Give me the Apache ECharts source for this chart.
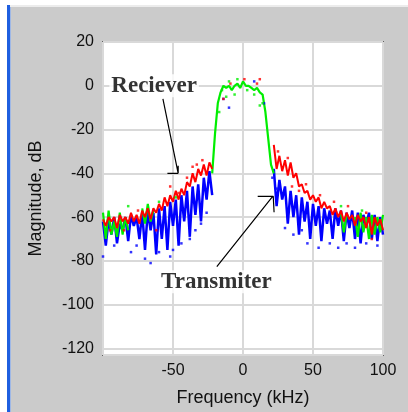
<!DOCTYPE html>
<html><head><meta charset="utf-8">
<script src="https://cdn.jsdelivr.net/npm/echarts@6/dist/echarts.min.js"></script>
<style>html,body{margin:0;padding:0;background:#fff}#c{width:408px;height:412px}</style>
</head><body><div id="c"></div>
<script>
const freq = [-100,-98,-96,-94,-92,-90,-88,-86,-84,-82,-80,-78,-76,-74,-72,-70,-68,-66,-64,-62,-60,-58,-56,-54,-52,-50,-48,-46,-44,-42,-40,-38,-36,-34,-32,-30,-28,-26,-24,-22,
  -20,-18,-16,-14,-12,-10,-8,-6,-4,-2,0,2,4,6,8,10,12,14,16,18,20,
  22,24,26,28,30,32,34,36,38,40,42,44,46,48,50,52,54,56,58,60,62,64,66,68,70,72,74,76,78,80,82,84,86,88,90,92,94,96,98,100];

const transmitter = [-62,-73,-61,-68,-60,-72,-63,-66,-60,-71,-59,-64,-60,-70,-58,-75,-57,-66,-58,-77,-56,-70,-55,-75,-53,-64,-52,-73,-50,-62,-48,-69,-46,-59,-45,-62,-42,-52,-39,-50,
  '-','-','-','-','-','-','-','-','-','-','-','-','-','-','-','-','-','-','-','-','-',
  -38,-55,-43,-52,-46,-63,-48,-60,-50,-68,-51,-62,-53,-70,-54,-64,-55,-71,-56,-63,-57,-70,-56,-64,-57,-71,-58,-65,-57,-70,-58,-72,-59,-64,-58,-70,-59,-71,-60,-68];

const receiver = [-61,-64,-60,-62,-60,-65,-59,-62,-60,-63,-58,-62,-59,-63,-57,-60,-56,-61,-56,-58,-54,-57,-51,-55,-50,-53,-48,-52,-47,-50,-44,-46,-40,-44,-38,-41,-36,-41,-35,-38,
  '-','-','-','-','-','-','-','-','-','-','-','-','-','-','-','-','-','-','-','-','-',
  -27,-38,-32,-39,-34,-41,-35,-42,-40,-46,-45,-49,-48,-52,-50,-53,-51,-56,-53,-56,-55,-59,-56,-60,-57,-62,-58,-61,-59,-64,-59,-62,-60,-65,-60,-68,-60,-64,-61,-66];

const combined = [-58,-70,-57,-68,-62,-69,-58,-68,-60,-66,'-','-','-','-',-56,-63,-54,-62,-57,'-','-','-','-','-','-','-','-','-','-','-','-','-','-','-','-','-','-','-','-',-40,
  -22,-8,-3,0,-1,0,-2,0,1,-1,2,0,0,-1,-2,-1,-3,-4,-12,-24,-36,
  -40,'-','-','-','-','-','-','-','-','-','-','-','-','-','-','-','-','-','-','-','-','-','-','-',-58,-67,-59,'-','-',-60,-69,-58,-67,-60,-70,-59,-68,-60,-67,-59];

const transmitterDots = [[-100,-78],[-92,-73],[-80,-76],[-76,-73],[-70,-79],[-66,-81],[-60,-76],[-52,-78],[-50,-75],[-44,-72],[-38,-70],[-34,-66],[-30,-63],[-26,-58],[-10,-10],[-14,-6],[8,2],[15,-8],[21,-42],[24,-47],[30,-65],[36,-68],[42,-66],[46,-72],[54,-74],[62,-72],[68,-74],[74,-72],[80,-74],[88,-72],[96,-73]];
const receiverDots = [[-95,-66],[-85,-66],[-75,-57],[-62,-66],[-52,-46],[-46,-49],[-40,-42],[-36,-37],[-33,-36],[-29,-34],[-14,-6],[-9,1],[1,3],[10,1],[12,3],[25,-30],[32,-33],[35,-46],[40,-48],[45,-45],[55,-50],[65,-53],[75,-55],[88,-58],[92,-70]];
const combinedDots = [[-82,-55],[-60,-53],[-48,-51],[-17,-12],[-15,-2],[-12,-5],[-10,2],[-6,-4],[-4,3],[3,-2],[8,-4],[12,-9],[14,-8],[70,-55],[85,-57]];

const yTicks = [-120,-100,-80,-60,-40,-20,0,20];
const xTicks = [-50,0,50,100];

const noteText = ['Reciever','Transmiter'];
const notePos = [[-63.5,0],[-19,-89.5]];
const receiverArrow = [[-57.2,-6],[-46.3,-40],[-46.3,-36.5],'-',[-54,-40],[-46.3,-40]];
const transmitterArrow = [[-18.7,-82.6],[21.2,-50.5],'-',[10.5,-50.5],[21.6,-50.5],[22.2,-57.8]];

function pairs(arr){ return freq.map((f,i)=> [f, arr[i]]); }
function path(arr){ return arr.map(p => p==='-' ? ['-','-'] : p); }

const chart = echarts.init(document.getElementById('c'), null, {renderer:'canvas'});
const sans = 'Liberation Sans';
const dot = (color, data) => ({type:'scatter',data:data,symbol:'rect',symbolSize:2.5,
  itemStyle:{color:color},z:4});
chart.setOption({
  animation:false,
  backgroundColor:'#cbcbcb',
  graphic:[
    {type:'rect', left:0, top:0, shape:{width:408,height:5}, style:{fill:'#ffffff'}, z:-10},
    {type:'rect', left:0, top:0, shape:{width:7,height:412}, style:{fill:'#ffffff'}, z:-10},
    {type:'rect', left:7, top:5, shape:{width:401,height:2}, style:{fill:'#ececec'}, z:-9},
    {type:'rect', left:7, top:5, shape:{width:3,height:407}, style:{fill:'#1f5fe0'}, z:-8},
    {type:'rect', left:10, top:7, shape:{width:1,height:405}, style:{fill:'#9fb8e6'}, z:-8}
  ],
  grid:{left:103,right:25,top:42,bottom:57,show:true,backgroundColor:'#ffffff',borderColor:'#111',borderWidth:1.5},
  xAxis:{type:'value',min:-100,max:100,interval:50,
    axisLine:{show:false},axisTick:{show:false},
    axisLabel:{showMinLabel:false,margin:8,color:'#111',fontFamily:sans,fontSize:16,
      formatter:v=> xTicks.indexOf(v)>=0 ? String(v) : ''},
    splitLine:{lineStyle:{color:'#d9d9d9',width:2}},
    name:'Frequency (kHz)',nameLocation:'middle',nameGap:34,
    nameTextStyle:{color:'#111',fontFamily:sans,fontSize:18}},
  yAxis:{type:'value',min:-123,max:20,splitNumber:7,
    axisLine:{show:false},axisTick:{show:false},
    axisLabel:{showMinLabel:false,margin:9,color:'#111',fontFamily:sans,fontSize:16,
      formatter:v=> yTicks.indexOf(v)>=0 ? String(v) : ''},
    splitLine:{lineStyle:{color:'#d9d9d9',width:2}},
    name:'Magnitude, dB',nameLocation:'middle',nameGap:58,
    nameTextStyle:{color:'#111',fontFamily:sans,fontSize:18}},
  series:[
    {type:'line',name:'Transmiter',data:pairs(transmitter),symbol:'none',connectNulls:false,
      lineStyle:{color:'#0000ff',width:2.5},z:2},
    {type:'line',name:'Combined',data:pairs(combined),symbol:'none',connectNulls:false,
      lineStyle:{color:'#00ee00',width:2.2},z:3},
    {type:'line',name:'Reciever',data:pairs(receiver),symbol:'none',connectNulls:false,
      lineStyle:{color:'#ff0000',width:2},z:4},
    dot('#0000ff', transmitterDots),
    dot('#ff0000', receiverDots),
    dot('#00ee00', combinedDots),
    {type:'line',data:path(receiverArrow),symbol:'none',connectNulls:false,
      lineStyle:{color:'#000',width:1.2},z:5},
    {type:'line',data:path(transmitterArrow),symbol:'none',connectNulls:false,
      lineStyle:{color:'#000',width:1.2},z:5},
    {type:'scatter',data:notePos,symbolSize:0,z:6,
      label:{show:true,position:'inside',formatter:p=>noteText[p.dataIndex],
        fontFamily:'Liberation Serif',fontWeight:'bold',fontSize:23,color:'#000',
        backgroundColor:'#ffffff',padding:[0,2]}}
  ]
});
</script></body></html>
